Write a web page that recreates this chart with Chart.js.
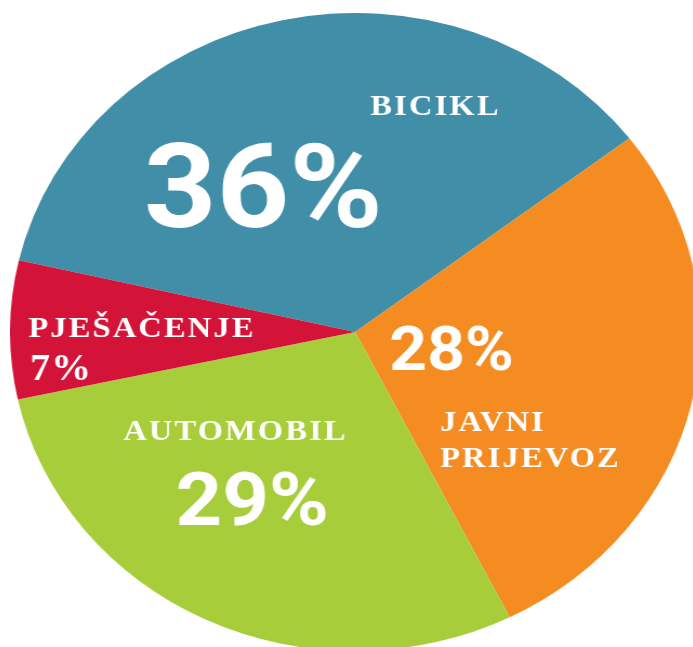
<!DOCTYPE html>
<html>
<head>
<meta charset="utf-8">
<script src="https://cdn.jsdelivr.net/npm/chart.js@4"></script>
<style>
  html, body { margin: 0; padding: 0; background: #fff; overflow: hidden; width: 693px; height: 647px; }
  /* the source picture is stretched sideways, so the square chart is too */
  #wrap { position: absolute; left: 10px; top: 13px; width: 638px; height: 638px;
          transform: scaleX(1.082); transform-origin: 0 0; }
</style>
</head>
<body>
<div id="wrap"><canvas id="pie"></canvas></div>
<script>
const categories = ['BICIKL', 'JAVNI PRIJEVOZ', 'AUTOMOBIL', 'PJEŠAČENJE'];
const shares = [36, 28, 29, 7];
const colors = ['#418ea8', '#f48c22', '#a7ce3a', '#d41339'];

// where each slice's name and percentage go, as offsets from the centre in radius units
const labelLayout = [
  { name: { dx: 0.044, dy: -0.680, size: 30 }, pct: { dx: -0.612, dy: -0.329, size: 117, sans: true } },
  { name: { dx: 0.246, dy: 0.310, size: 30, lead: 0.113 }, pct: { dx: 0.099, dy: 0.119, size: 61, sans: true } },
  { name: { dx: -0.672, dy: 0.339, size: 30 }, pct: { dx: -0.520, dy: 0.605, size: 75, sans: true } },
  { name: { dx: -0.947, dy: 0.016, size: 30 }, pct: { dx: -0.942, dy: 0.150, size: 37 } }
];

const sliceLabels = {
  id: 'sliceLabels',
  afterDatasetsDraw(chart) {
    const { ctx } = chart;
    const arcs = chart.getDatasetMeta(0).data;
    ctx.save();
    ctx.fillStyle = '#fff';
    ctx.textAlign = 'left';
    ctx.textBaseline = 'alphabetic';
    arcs.forEach((arc, i) => {
      const r = arc.outerRadius;
      const lay = labelLayout[i];
      const serif = size => 'bold ' + size + 'px "Liberation Serif", "DejaVu Serif", serif';
      const sans = size => 'bold ' + size + 'px Roboto, "DejaVu Sans", sans-serif';

      ctx.font = serif(lay.name.size);
      ctx.letterSpacing = '2px';
      categories[i].split(' ').forEach((line, k) => {
        ctx.fillText(line, arc.x + lay.name.dx * r, arc.y + (lay.name.dy + k * (lay.name.lead || 0)) * r);
      });

      ctx.font = lay.pct.sans ? sans(lay.pct.size) : serif(lay.pct.size);
      ctx.letterSpacing = lay.pct.sans ? '0px' : '1px';
      ctx.fillText(shares[i] + '%', arc.x + lay.pct.dx * r, arc.y + lay.pct.dy * r);
    });
    ctx.restore();
  }
};

new Chart(document.getElementById('pie'), {
  type: 'pie',
  data: {
    labels: categories,
    datasets: [{
      data: shares,
      backgroundColor: colors,
      borderWidth: 0
    }]
  },
  options: {
    responsive: true,
    maintainAspectRatio: false,
    animation: false,
    events: [],
    rotation: -77,
    layout: { padding: 0 },
    plugins: {
      legend: { display: false },
      tooltip: { enabled: false }
    }
  },
  plugins: [sliceLabels]
});
</script>
</body>
</html>
